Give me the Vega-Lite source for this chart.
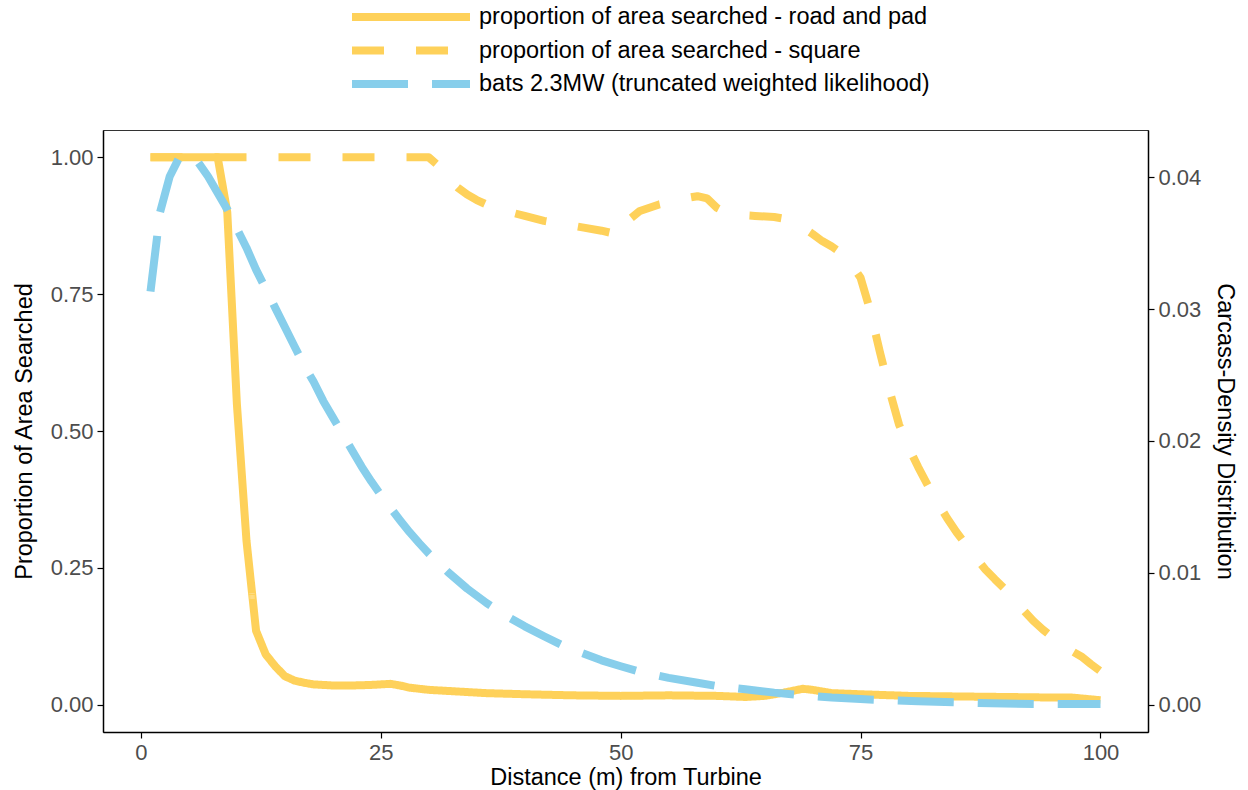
{
  "$schema": "https://vega.github.io/schema/vega-lite/v6.json",
  "width": 1045,
  "height": 602,
  "autosize": "none",
  "padding": {"left": 103, "top": 130, "right": 100, "bottom": 58},
  "background": "white",
  "datasets": {
    "search": [
      {"d": 1, "prop": 1.0, "series": "proportion of area searched - road and pad"},
      {"d": 2, "prop": 1.0, "series": "proportion of area searched - road and pad"},
      {"d": 4, "prop": 1.0, "series": "proportion of area searched - road and pad"},
      {"d": 6, "prop": 1.0, "series": "proportion of area searched - road and pad"},
      {"d": 8, "prop": 1.0, "series": "proportion of area searched - road and pad"},
      {"d": 9, "prop": 0.9, "series": "proportion of area searched - road and pad"},
      {"d": 10, "prop": 0.55, "series": "proportion of area searched - road and pad"},
      {"d": 11, "prop": 0.3, "series": "proportion of area searched - road and pad"},
      {"d": 12, "prop": 0.135, "series": "proportion of area searched - road and pad"},
      {"d": 13, "prop": 0.092, "series": "proportion of area searched - road and pad"},
      {"d": 14, "prop": 0.07, "series": "proportion of area searched - road and pad"},
      {"d": 15, "prop": 0.052, "series": "proportion of area searched - road and pad"},
      {"d": 16, "prop": 0.044, "series": "proportion of area searched - road and pad"},
      {"d": 17, "prop": 0.04, "series": "proportion of area searched - road and pad"},
      {"d": 18, "prop": 0.037, "series": "proportion of area searched - road and pad"},
      {"d": 20, "prop": 0.035, "series": "proportion of area searched - road and pad"},
      {"d": 22, "prop": 0.035, "series": "proportion of area searched - road and pad"},
      {"d": 24, "prop": 0.036, "series": "proportion of area searched - road and pad"},
      {"d": 26, "prop": 0.038, "series": "proportion of area searched - road and pad"},
      {"d": 27, "prop": 0.035, "series": "proportion of area searched - road and pad"},
      {"d": 28, "prop": 0.031, "series": "proportion of area searched - road and pad"},
      {"d": 30, "prop": 0.027, "series": "proportion of area searched - road and pad"},
      {"d": 33, "prop": 0.024, "series": "proportion of area searched - road and pad"},
      {"d": 36, "prop": 0.021, "series": "proportion of area searched - road and pad"},
      {"d": 40, "prop": 0.019, "series": "proportion of area searched - road and pad"},
      {"d": 45, "prop": 0.017, "series": "proportion of area searched - road and pad"},
      {"d": 50, "prop": 0.016, "series": "proportion of area searched - road and pad"},
      {"d": 55, "prop": 0.017, "series": "proportion of area searched - road and pad"},
      {"d": 60, "prop": 0.016, "series": "proportion of area searched - road and pad"},
      {"d": 63, "prop": 0.014, "series": "proportion of area searched - road and pad"},
      {"d": 65, "prop": 0.016, "series": "proportion of area searched - road and pad"},
      {"d": 67, "prop": 0.022, "series": "proportion of area searched - road and pad"},
      {"d": 69, "prop": 0.029, "series": "proportion of area searched - road and pad"},
      {"d": 70, "prop": 0.027, "series": "proportion of area searched - road and pad"},
      {"d": 72, "prop": 0.021, "series": "proportion of area searched - road and pad"},
      {"d": 75, "prop": 0.019, "series": "proportion of area searched - road and pad"},
      {"d": 80, "prop": 0.016, "series": "proportion of area searched - road and pad"},
      {"d": 85, "prop": 0.015, "series": "proportion of area searched - road and pad"},
      {"d": 90, "prop": 0.014, "series": "proportion of area searched - road and pad"},
      {"d": 95, "prop": 0.013, "series": "proportion of area searched - road and pad"},
      {"d": 97, "prop": 0.013, "series": "proportion of area searched - road and pad"},
      {"d": 100, "prop": 0.008, "series": "proportion of area searched - road and pad"},
      {"d": 1, "prop": 1.0, "series": "proportion of area searched - square"},
      {"d": 10, "prop": 1.0, "series": "proportion of area searched - square"},
      {"d": 20, "prop": 1.0, "series": "proportion of area searched - square"},
      {"d": 30, "prop": 1.0, "series": "proportion of area searched - square"},
      {"d": 31, "prop": 0.985, "series": "proportion of area searched - square"},
      {"d": 32, "prop": 0.962, "series": "proportion of area searched - square"},
      {"d": 33, "prop": 0.945, "series": "proportion of area searched - square"},
      {"d": 34, "prop": 0.932, "series": "proportion of area searched - square"},
      {"d": 35, "prop": 0.922, "series": "proportion of area searched - square"},
      {"d": 36, "prop": 0.914, "series": "proportion of area searched - square"},
      {"d": 38, "prop": 0.902, "series": "proportion of area searched - square"},
      {"d": 40, "prop": 0.893, "series": "proportion of area searched - square"},
      {"d": 42, "prop": 0.884, "series": "proportion of area searched - square"},
      {"d": 44, "prop": 0.878, "series": "proportion of area searched - square"},
      {"d": 46, "prop": 0.872, "series": "proportion of area searched - square"},
      {"d": 48, "prop": 0.866, "series": "proportion of area searched - square"},
      {"d": 50, "prop": 0.858, "series": "proportion of area searched - square"},
      {"d": 51, "prop": 0.888, "series": "proportion of area searched - square"},
      {"d": 52, "prop": 0.902, "series": "proportion of area searched - square"},
      {"d": 53, "prop": 0.908, "series": "proportion of area searched - square"},
      {"d": 54, "prop": 0.914, "series": "proportion of area searched - square"},
      {"d": 55, "prop": 0.918, "series": "proportion of area searched - square"},
      {"d": 56, "prop": 0.922, "series": "proportion of area searched - square"},
      {"d": 57, "prop": 0.926, "series": "proportion of area searched - square"},
      {"d": 58, "prop": 0.929, "series": "proportion of area searched - square"},
      {"d": 59, "prop": 0.925, "series": "proportion of area searched - square"},
      {"d": 60, "prop": 0.908, "series": "proportion of area searched - square"},
      {"d": 61, "prop": 0.899, "series": "proportion of area searched - square"},
      {"d": 62, "prop": 0.895, "series": "proportion of area searched - square"},
      {"d": 64, "prop": 0.893, "series": "proportion of area searched - square"},
      {"d": 66, "prop": 0.891, "series": "proportion of area searched - square"},
      {"d": 67, "prop": 0.888, "series": "proportion of area searched - square"},
      {"d": 68, "prop": 0.882, "series": "proportion of area searched - square"},
      {"d": 69, "prop": 0.872, "series": "proportion of area searched - square"},
      {"d": 70, "prop": 0.86, "series": "proportion of area searched - square"},
      {"d": 71, "prop": 0.847, "series": "proportion of area searched - square"},
      {"d": 72, "prop": 0.837, "series": "proportion of area searched - square"},
      {"d": 73, "prop": 0.825, "series": "proportion of area searched - square"},
      {"d": 74, "prop": 0.806, "series": "proportion of area searched - square"},
      {"d": 75, "prop": 0.78, "series": "proportion of area searched - square"},
      {"d": 76, "prop": 0.72, "series": "proportion of area searched - square"},
      {"d": 77, "prop": 0.645, "series": "proportion of area searched - square"},
      {"d": 78, "prop": 0.575, "series": "proportion of area searched - square"},
      {"d": 79, "prop": 0.512, "series": "proportion of area searched - square"},
      {"d": 80, "prop": 0.47, "series": "proportion of area searched - square"},
      {"d": 81, "prop": 0.434, "series": "proportion of area searched - square"},
      {"d": 82, "prop": 0.401, "series": "proportion of area searched - square"},
      {"d": 83, "prop": 0.37, "series": "proportion of area searched - square"},
      {"d": 84, "prop": 0.341, "series": "proportion of area searched - square"},
      {"d": 85, "prop": 0.315, "series": "proportion of area searched - square"},
      {"d": 86, "prop": 0.292, "series": "proportion of area searched - square"},
      {"d": 87, "prop": 0.269, "series": "proportion of area searched - square"},
      {"d": 88, "prop": 0.247, "series": "proportion of area searched - square"},
      {"d": 89, "prop": 0.229, "series": "proportion of area searched - square"},
      {"d": 90, "prop": 0.212, "series": "proportion of area searched - square"},
      {"d": 91, "prop": 0.195, "series": "proportion of area searched - square"},
      {"d": 92, "prop": 0.172, "series": "proportion of area searched - square"},
      {"d": 93, "prop": 0.153, "series": "proportion of area searched - square"},
      {"d": 94, "prop": 0.137, "series": "proportion of area searched - square"},
      {"d": 95, "prop": 0.123, "series": "proportion of area searched - square"},
      {"d": 96, "prop": 0.11, "series": "proportion of area searched - square"},
      {"d": 97, "prop": 0.098, "series": "proportion of area searched - square"},
      {"d": 98, "prop": 0.088, "series": "proportion of area searched - square"},
      {"d": 99, "prop": 0.074, "series": "proportion of area searched - square"},
      {"d": 100, "prop": 0.061, "series": "proportion of area searched - square"}
    ],
    "bats": [
      {"d": 1, "density": 0.03134, "series": "bats 2.3MW (truncated weighted likelihood)"},
      {"d": 2, "density": 0.03736, "series": "bats 2.3MW (truncated weighted likelihood)"},
      {"d": 3, "density": 0.04006, "series": "bats 2.3MW (truncated weighted likelihood)"},
      {"d": 4, "density": 0.04151, "series": "bats 2.3MW (truncated weighted likelihood)"},
      {"d": 5, "density": 0.04164, "series": "bats 2.3MW (truncated weighted likelihood)"},
      {"d": 6, "density": 0.0411, "series": "bats 2.3MW (truncated weighted likelihood)"},
      {"d": 7, "density": 0.04006, "series": "bats 2.3MW (truncated weighted likelihood)"},
      {"d": 8, "density": 0.03881, "series": "bats 2.3MW (truncated weighted likelihood)"},
      {"d": 9, "density": 0.03757, "series": "bats 2.3MW (truncated weighted likelihood)"},
      {"d": 10, "density": 0.03611, "series": "bats 2.3MW (truncated weighted likelihood)"},
      {"d": 11, "density": 0.03466, "series": "bats 2.3MW (truncated weighted likelihood)"},
      {"d": 12, "density": 0.033, "series": "bats 2.3MW (truncated weighted likelihood)"},
      {"d": 13, "density": 0.03155, "series": "bats 2.3MW (truncated weighted likelihood)"},
      {"d": 14, "density": 0.0301, "series": "bats 2.3MW (truncated weighted likelihood)"},
      {"d": 15, "density": 0.02864, "series": "bats 2.3MW (truncated weighted likelihood)"},
      {"d": 16, "density": 0.02719, "series": "bats 2.3MW (truncated weighted likelihood)"},
      {"d": 17, "density": 0.02574, "series": "bats 2.3MW (truncated weighted likelihood)"},
      {"d": 18, "density": 0.02449, "series": "bats 2.3MW (truncated weighted likelihood)"},
      {"d": 19, "density": 0.02304, "series": "bats 2.3MW (truncated weighted likelihood)"},
      {"d": 20, "density": 0.02179, "series": "bats 2.3MW (truncated weighted likelihood)"},
      {"d": 21, "density": 0.02055, "series": "bats 2.3MW (truncated weighted likelihood)"},
      {"d": 22, "density": 0.0193, "series": "bats 2.3MW (truncated weighted likelihood)"},
      {"d": 23, "density": 0.01806, "series": "bats 2.3MW (truncated weighted likelihood)"},
      {"d": 24, "density": 0.01694, "series": "bats 2.3MW (truncated weighted likelihood)"},
      {"d": 25, "density": 0.0159, "series": "bats 2.3MW (truncated weighted likelihood)"},
      {"d": 26, "density": 0.01494, "series": "bats 2.3MW (truncated weighted likelihood)"},
      {"d": 27, "density": 0.01399, "series": "bats 2.3MW (truncated weighted likelihood)"},
      {"d": 28, "density": 0.01308, "series": "bats 2.3MW (truncated weighted likelihood)"},
      {"d": 29, "density": 0.01225, "series": "bats 2.3MW (truncated weighted likelihood)"},
      {"d": 30, "density": 0.01146, "series": "bats 2.3MW (truncated weighted likelihood)"},
      {"d": 32, "density": 0.01005, "series": "bats 2.3MW (truncated weighted likelihood)"},
      {"d": 34, "density": 0.0088, "series": "bats 2.3MW (truncated weighted likelihood)"},
      {"d": 36, "density": 0.00772, "series": "bats 2.3MW (truncated weighted likelihood)"},
      {"d": 38, "density": 0.00677, "series": "bats 2.3MW (truncated weighted likelihood)"},
      {"d": 40, "density": 0.00594, "series": "bats 2.3MW (truncated weighted likelihood)"},
      {"d": 42, "density": 0.00519, "series": "bats 2.3MW (truncated weighted likelihood)"},
      {"d": 44, "density": 0.00448, "series": "bats 2.3MW (truncated weighted likelihood)"},
      {"d": 46, "density": 0.0039, "series": "bats 2.3MW (truncated weighted likelihood)"},
      {"d": 48, "density": 0.00336, "series": "bats 2.3MW (truncated weighted likelihood)"},
      {"d": 50, "density": 0.00291, "series": "bats 2.3MW (truncated weighted likelihood)"},
      {"d": 52, "density": 0.00249, "series": "bats 2.3MW (truncated weighted likelihood)"},
      {"d": 55, "density": 0.00203, "series": "bats 2.3MW (truncated weighted likelihood)"},
      {"d": 58, "density": 0.00166, "series": "bats 2.3MW (truncated weighted likelihood)"},
      {"d": 60, "density": 0.00141, "series": "bats 2.3MW (truncated weighted likelihood)"},
      {"d": 63, "density": 0.00116, "series": "bats 2.3MW (truncated weighted likelihood)"},
      {"d": 66, "density": 0.00091, "series": "bats 2.3MW (truncated weighted likelihood)"},
      {"d": 69, "density": 0.00071, "series": "bats 2.3MW (truncated weighted likelihood)"},
      {"d": 72, "density": 0.00054, "series": "bats 2.3MW (truncated weighted likelihood)"},
      {"d": 75, "density": 0.00042, "series": "bats 2.3MW (truncated weighted likelihood)"},
      {"d": 78, "density": 0.00033, "series": "bats 2.3MW (truncated weighted likelihood)"},
      {"d": 81, "density": 0.00025, "series": "bats 2.3MW (truncated weighted likelihood)"},
      {"d": 85, "density": 0.00017, "series": "bats 2.3MW (truncated weighted likelihood)"},
      {"d": 90, "density": 0.00008, "series": "bats 2.3MW (truncated weighted likelihood)"},
      {"d": 95, "density": 0.00004, "series": "bats 2.3MW (truncated weighted likelihood)"},
      {"d": 100, "density": 0.00004, "series": "bats 2.3MW (truncated weighted likelihood)"}
    ]
  },
  "layer": [
    {
      "data": {"name": "search"},
      "mark": {"type": "line", "strokeWidth": 8, "strokeCap": "butt", "strokeJoin": "round", "clip": true},
      "encoding": {
        "x": {"field": "d", "type": "quantitative", "scale": {"domain": [-3.95, 104.95], "nice": false, "zero": false},
          "axis": {"values": [0, 25, 50, 75, 100], "title": "Distance (m) from Turbine"}},
        "y": {"field": "prop", "type": "quantitative", "scale": {"domain": [-0.05, 1.05], "nice": false, "zero": false},
          "axis": {"orient": "left", "values": [0, 0.25, 0.5, 0.75, 1], "format": ".2f", "title": "Proportion of Area Searched", "titlePadding": 14}},
        "color": {"field": "series", "type": "nominal"},
        "strokeDash": {"field": "series", "type": "nominal"}
      }
    },
    {
      "data": {"name": "bats"},
      "mark": {"type": "line", "strokeWidth": 8, "strokeCap": "butt", "strokeJoin": "round", "clip": true},
      "encoding": {
        "x": {"field": "d", "type": "quantitative"},
        "y": {"field": "density", "type": "quantitative", "scale": {"domain": [-0.0020757, 0.04359], "nice": false, "zero": false},
          "axis": {"orient": "right", "values": [0, 0.01, 0.02, 0.03, 0.04], "format": ".2f", "title": "Carcass-Density Distribution", "titlePadding": 12}},
        "color": {"field": "series", "type": "nominal",
          "scale": {"domain": ["proportion of area searched - road and pad", "proportion of area searched - square", "bats 2.3MW (truncated weighted likelihood)"],
            "range": ["#FED15A", "#FED15A", "#87CEEB"]},
          "legend": {"title": null, "orient": "none", "legendX": 245, "legendY": -124, "symbolType": "stroke", "symbolSize": 13924, "symbolStrokeWidth": 8, "clipHeight": 22, "rowPadding": 9.5, "labelFontSize": 23.5, "labelOffset": 5, "labelColor": "#000000", "labelFont": "Liberation Sans", "padding": 0, "labelLimit": 700}},
        "strokeDash": {"field": "series", "type": "nominal",
          "scale": {"domain": ["proportion of area searched - road and pad", "proportion of area searched - square", "bats 2.3MW (truncated weighted likelihood)"],
            "range": [[1, 0], [32, 32], [56, 24]]},
          "legend": {"title": null, "orient": "none", "legendX": 245, "legendY": -124, "symbolType": "stroke", "symbolSize": 13924, "symbolStrokeWidth": 8, "clipHeight": 22, "rowPadding": 9.5, "labelFontSize": 23.5, "labelOffset": 5, "labelColor": "#000000", "labelFont": "Liberation Sans", "padding": 0, "labelLimit": 700}}
      }
    }
  ],
  "resolve": {"scale": {"y": "independent"}},
  "config": {
    "font": "Liberation Sans",
    "view": {"stroke": "#333333", "strokeWidth": 1},
    "axis": {
      "grid": false,
      "domainColor": "#000000",
      "domainWidth": 1.5,
      "tickColor": "#000000",
      "tickWidth": 1.2,
      "tickSize": 6,
      "labelFontSize": 22,
      "labelColor": "#4D4D4D",
      "labelFont": "Liberation Sans",
      "labelPadding": 4,
      "titleFontSize": 23.5,
      "titleFontWeight": "normal",
      "titleColor": "#000000",
      "titleFont": "Liberation Sans",
      "titlePadding": 10
    },
    "axisX": {"titlePadding": 2, "labelPadding": 4}
  }
}
